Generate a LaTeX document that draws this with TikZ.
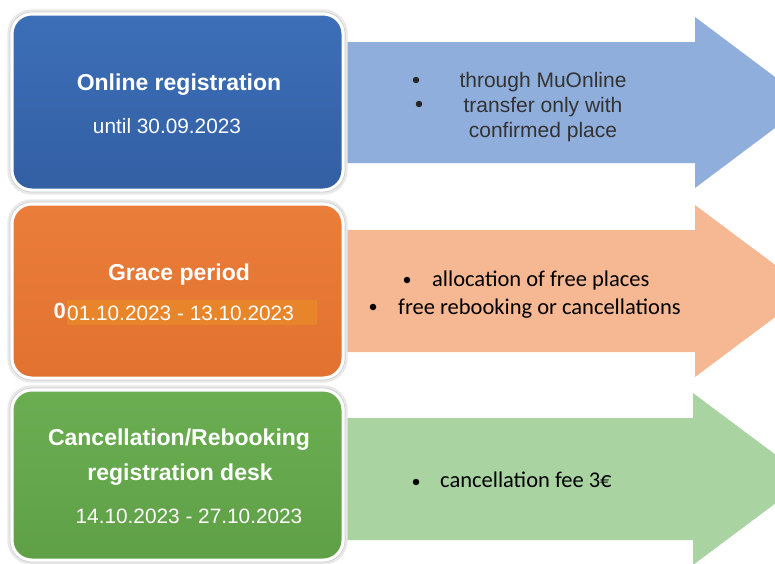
\documentclass[tikz,border=0pt]{standalone}
\usepackage{fontspec}
\setmainfont{Liberation Sans}
\newfontfamily\helv{Liberation Sans}
\newfontfamily\carl{Carlito}
\usetikzlibrary{shadows}
\definecolor{boxblue}{HTML}{3C6FB8}
\definecolor{boxblueb}{HTML}{335FA4}
\definecolor{boxorange}{HTML}{EB7D3B}
\definecolor{boxorangeb}{HTML}{E1722F}
\definecolor{boxgreen}{HTML}{6BAE52}
\definecolor{boxgreenb}{HTML}{5FA046}
\definecolor{arrblue}{HTML}{8FAEDC}
\definecolor{arrorange}{HTML}{F5B892}
\definecolor{arrgreen}{HTML}{A9D4A2}
\definecolor{hilite}{HTML}{E8852A}
\definecolor{greytext}{HTML}{333333}
\tikzset{
  phasebox/.style={draw=white, line width=3.5pt, rounded corners=20pt,
    minimum width=331.5pt, inner sep=0pt,
    drop shadow={opacity=0.3, shadow xshift=0pt, shadow yshift=-2.5pt}},
  boxhalo/.style={draw=black!9, line width=2.5pt, rounded corners=23pt},
  boxrim/.style={draw=black!20, line width=0.6pt, rounded corners=21.8pt},
  boxtitle/.style={text=white, font=\helv\fontsize{23}{27}\selectfont\bfseries, anchor=base, inner sep=0pt},
  boxdate/.style={text=white, font=\helv\fontsize{20.8}{25}\selectfont, anchor=base, inner sep=0pt},
  helvtext/.style={text=greytext, font=\helv\fontsize{21}{25}\selectfont, anchor=base, inner sep=0pt},
  carltext/.style={text=black, font=\carl\fontsize{22.5}{27}\selectfont, anchor=base west, inner sep=0pt},
  bul/.style={circle, fill=#1, inner sep=0pt, minimum size=6.5pt},
}
\begin{document}
\begin{tikzpicture}[x=1pt,y=-1pt]
\useasboundingbox (0,0) rectangle (775,563);
\clip (0,0) rectangle (775,563);
\fill[white] (0,0) rectangle (775,563);
% arrows
\fill[arrblue] (340,42) -- (695,42) -- (695,17) -- (809,102.5) -- (695,188) -- (695,163) -- (340,163) -- cycle;
\fill[arrorange] (340,230) -- (695,230) -- (695,205) -- (810,291) -- (695,377) -- (695,352) -- (340,352) -- cycle;
\fill[arrgreen] (340,418) -- (693,418) -- (693,393) -- (808,479) -- (693,565) -- (693,540) -- (340,540) -- cycle;
% boxes
\node[phasebox, minimum height=176.5pt, top color=boxblue, bottom color=boxblueb] (b1) at (177.5,102) {};
\node[phasebox, minimum height=174.5pt, top color=boxorange, bottom color=boxorangeb] (b2) at (177.5,291) {};
\node[phasebox, minimum height=170.5pt, top color=boxgreen, bottom color=boxgreenb] (b3) at (177.5,475) {};
\foreach \b in {b1,b2,b3}{
  \draw[boxhalo] ([xshift=-1.4pt,yshift=1.4pt]\b.north west) rectangle ([xshift=1.4pt,yshift=-1.4pt]\b.south east);
  \draw[boxrim] (\b.north west) rectangle (\b.south east);
}
% box 1 text
\node[boxtitle] (t1) at (179,90) {Online registration};
\node[boxdate] (d1) at (167,133) {until 30.09.2023};
% box 2 text
\node[boxtitle] (t2) at (179,280) {Grace period};
\fill[hilite] (67,300) rectangle (317,325);
\node[boxdate, anchor=base west] (d2) at (67,320) {01.10.2023 - 13.10.2023};
\node[text=white, font=\helv\fontsize{22}{26}\selectfont\bfseries, anchor=base east, inner sep=0pt] (z2) at (66,318) {0};
% box 3 text
\node[boxtitle] (t3a) at (179,445) {Cancellation/Rebooking};
\node[boxtitle] (t3b) at (180,480) {registration desk};
\node[boxdate] (d3) at (189,523) {14.10.2023 - 27.10.2023};
% arrow 1 text
\node[bul=black!85] (p1) at (416,80) {};
\node[bul=black!85] (p2) at (419,104) {};
\node[helvtext] (a1) at (543,87) {through MuOnline};
\node[helvtext] (a2) at (543,112) {transfer only with};
\node[helvtext] (a3) at (543,137) {confirmed place};
% arrow 2 text
\node[bul=black] (q1) at (407,280) {};
\node[bul=black] (q2) at (373,307) {};
\node[carltext] (c1) at (432,286) {allocation of free places};
\node[carltext] (c2) at (398,314) {free rebooking or cancellations};
% arrow 3 text
\node[bul=black] (r1) at (416,482) {};
\node[carltext] (e1) at (440,487) {cancellation fee 3€};
\end{tikzpicture}
\end{document}
